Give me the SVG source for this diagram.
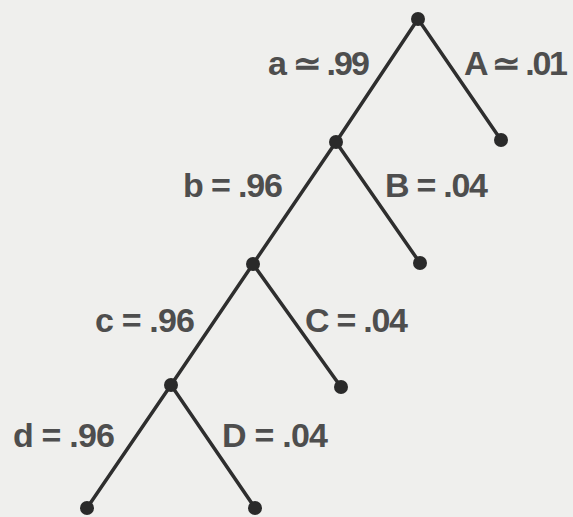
<svg xmlns="http://www.w3.org/2000/svg" width="573" height="517" viewBox="0 0 573 517">
<style>
.e{stroke:#2e2e2e;stroke-width:3.5;stroke-linecap:round;fill:none}
.n{fill:#2a2a2a}
.t{font-family:"Liberation Sans",Arial,sans-serif;font-weight:bold;font-size:34px;fill:#4e4e4e}
</style>
<rect width="573" height="517" fill="#efefed"/>
<g id="connectors">
<line class="e" x1="418" y1="19" x2="336" y2="142"/>
<line class="e" x1="418" y1="19" x2="501" y2="140"/>
<line class="e" x1="336" y1="142" x2="253" y2="264"/>
<line class="e" x1="336" y1="142" x2="420" y2="263"/>
<line class="e" x1="253" y1="264" x2="171" y2="385"/>
<line class="e" x1="253" y1="264" x2="341" y2="387"/>
<line class="e" x1="171" y1="385" x2="87" y2="508"/>
<line class="e" x1="171" y1="385" x2="255" y2="508"/>
</g>
<g id="labels">
<text class="t" x="268" y="75" textLength="102" lengthAdjust="spacing">a ≃ .99</text>
<text class="t" x="464" y="75" textLength="104" lengthAdjust="spacing">A ≃ .01</text>
<text class="t" x="183" y="197" textLength="100" lengthAdjust="spacing">b = .96</text>
<text class="t" x="385" y="197" textLength="103" lengthAdjust="spacing">B = .04</text>
<text class="t" x="95" y="332" textLength="100" lengthAdjust="spacing">c = .96</text>
<text class="t" x="305" y="332" textLength="103" lengthAdjust="spacing">C = .04</text>
<text class="t" x="13" y="447" textLength="102" lengthAdjust="spacing">d = .96</text>
<text class="t" x="222" y="447" textLength="106" lengthAdjust="spacing">D = .04</text>
</g>
<g id="n0"><circle class="n" cx="418" cy="19" r="7"/></g>
<g id="n1"><circle class="n" cx="501" cy="140" r="7"/></g>
<g id="n2"><circle class="n" cx="336" cy="142" r="7"/></g>
<g id="n3"><circle class="n" cx="420" cy="263" r="7"/></g>
<g id="n4"><circle class="n" cx="253" cy="264" r="7"/></g>
<g id="n5"><circle class="n" cx="341" cy="387" r="7"/></g>
<g id="n6"><circle class="n" cx="171" cy="385" r="7"/></g>
<g id="n7"><circle class="n" cx="87" cy="508" r="7"/></g>
<g id="n8"><circle class="n" cx="255" cy="508" r="7"/></g>
</svg>
